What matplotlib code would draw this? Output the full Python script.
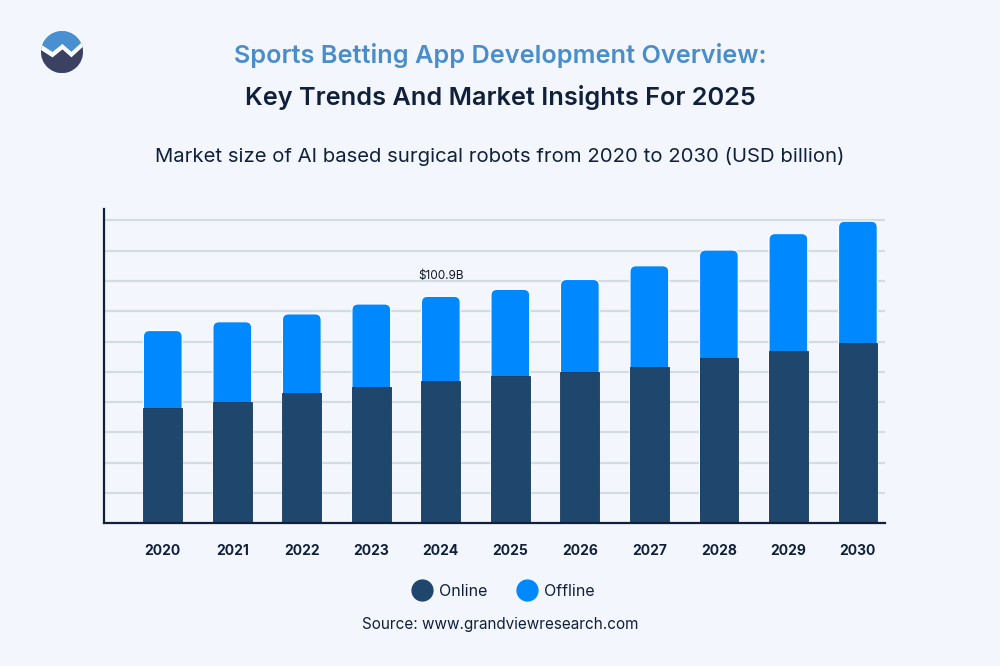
import numpy as np
import matplotlib
matplotlib.use("Agg")
import matplotlib.pyplot as plt
from matplotlib.patches import FancyBboxPatch, Circle, Polygon
from matplotlib.lines import Line2D

plt.rcParams['font.family'] = ['Inter', 'DejaVu Sans']

years = ['2020', '2021', '2022', '2023', '2024', '2025', '2026', '2027', '2028', '2029', '2030']
online = [51.3, 54.0, 57.8, 60.6, 63.3, 65.3, 67.2, 69.4, 73.7, 76.8, 80.2]
offline = [34.4, 35.6, 35.3, 36.9, 37.6, 38.7, 41.2, 45.1, 47.8, 52.0, 54.1]
callout_year = '2024'
callout_text = '$100.9B'

bg = '#F3F7FD'
c_online = '#1F466D'
c_offline = '#0088FF'
navy = '#10203A'

fig = plt.figure(figsize=(10, 6.66), dpi=100, facecolor=bg)

# titles
fig.text(0.5, 1 - 56 / 666, 'Sports Betting App Development Overview:', ha='center', va='center',
         fontsize=18.2, fontweight='semibold', color='#4A8DCB')
fig.text(0.5, 1 - 98 / 666, 'Key Trends And Market Insights For 2025', ha='center', va='center',
         fontsize=18.2, fontweight='semibold', color=navy)
fig.text(0.5, 1 - 157 / 666, 'Market size of AI based surgical robots from 2020 to 2030 (USD billion)',
         ha='center', va='center', fontsize=14.6, color=navy)

# logo
lax = fig.add_axes([41 / 1000, 1 - 73 / 666, 42 / 1000, 42 / 666])
lax.set_xlim(-1, 1)
lax.set_ylim(-1, 1)
lax.axis('off')
circ = Circle((0, 0), 1, transform=lax.transData)
top = lax.add_patch(Circle((0, 0), 1, color='#4A8FCF'))
wave_x = [-1.1, -0.45, 0.02, 0.45, 1.1, 1.1, -1.1]
wave_y = np.array([0.12, -0.3, 0.08, -0.3, 0.3, -1.1, -1.1])
white = lax.add_patch(Polygon(np.column_stack([wave_x, wave_y + 0.26]), color='white'))
dark = lax.add_patch(Polygon(np.column_stack([wave_x, wave_y]), color='#3B4160'))
for p in (top, white, dark):
    p.set_clip_path(circ)

# main chart
ax = fig.add_axes([0.1037, 0.2143, 0.7813, 0.4714])
ax.set_facecolor(bg)
x = np.arange(len(years))
totals = np.array(online) + np.array(offline)
step = 13.47
ymax = 139.6
ax.set_xlim(-0.85, 10.39)
ax.set_ylim(0, ymax)

for k in range(1, 11):
    ax.axhline(k * step, color='#D4DBE2', lw=1.6, zorder=0)

w = 0.557
px_x = 781.3 / 11.24
px_y = 314.0 / ymax
r = 6 / px_x
for xi, t in zip(x, totals):
    ax.add_patch(FancyBboxPatch((xi - w / 2, 0), w, t,
                                boxstyle=f'round,pad=0,rounding_size={r}',
                                mutation_aspect=px_x / px_y,
                                fc=c_offline, ec='white', lw=0.8, zorder=2))
ax.bar(x, online, width=w, color=c_online, edgecolor='#193A5C', lw=0.6, zorder=3)

i = years.index(callout_year)
ax.annotate(callout_text, (x[i], totals[i]), xytext=(0, 10), textcoords='offset points',
            ha='center', va='bottom', fontsize=8.5, color='#111827')

for s in ('top', 'right'):
    ax.spines[s].set_visible(False)
for s in ('left', 'bottom'):
    ax.spines[s].set_color(navy)
    ax.spines[s].set_linewidth(1.6)
    ax.spines[s].set_zorder(4)
ax.set_yticks([])
ax.set_xticks(x)
ax.set_xticklabels(years, fontsize=10, fontweight='bold', color=navy)
ax.tick_params(axis='x', length=0, pad=15)

handles = [Line2D([], [], marker='o', ls='', ms=15, color=c_online, label='Online'),
           Line2D([], [], marker='o', ls='', ms=15, color=c_offline, label='Offline')]
fig.legend(handles=handles, loc='center', bbox_to_anchor=(0.5, 1 - 591 / 666), ncol=2,
           frameon=False, fontsize=11.5, handletextpad=0.05, columnspacing=1.5, labelcolor=navy)

fig.text(0.5, 1 - 624 / 666, 'Source: www.grandviewresearch.com', ha='center', va='center',
         fontsize=11, color=navy)

fig.savefig('out.png', dpi=100, facecolor=bg)
